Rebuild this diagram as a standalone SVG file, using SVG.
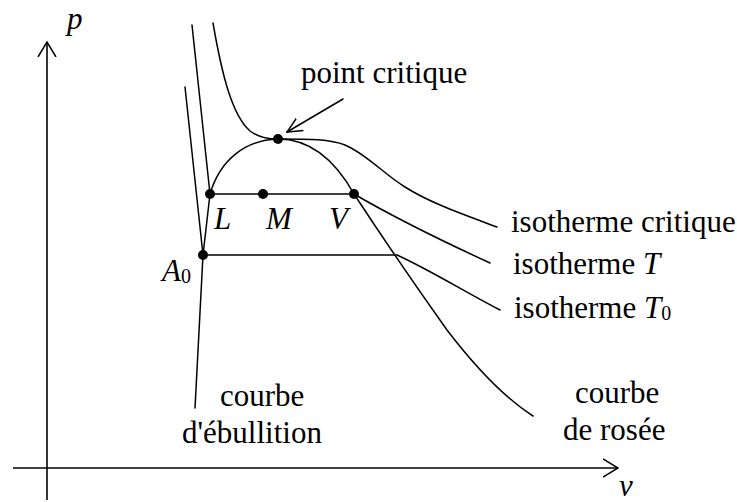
<svg xmlns="http://www.w3.org/2000/svg" width="737" height="502" viewBox="0 0 737 502">
<defs>
<style>
.ln{fill:none;stroke:#000;stroke-width:1.5;stroke-linejoin:round;stroke-linecap:round}
.ax{fill:none;stroke:#000;stroke-width:1.6}
.t{font-family:"Liberation Serif","Times New Roman",serif;font-size:31px;fill:#000}
.i{font-style:italic}
.dot{fill:#000}
</style>
<marker id="chev" viewBox="0 0 16 20" refX="15" refY="10" markerWidth="16" markerHeight="20" markerUnits="userSpaceOnUse" orient="auto">
<path d="M0,1 L15,10 L0,19" fill="none" stroke="#000" stroke-width="1.5"/>
</marker>
<marker id="chev2" viewBox="0 0 16 16" refX="15" refY="8" markerWidth="16" markerHeight="16" markerUnits="userSpaceOnUse" orient="auto">
<path d="M0,1 L15,8 L0,15" fill="none" stroke="#000" stroke-width="1.5"/>
</marker>
</defs>
<rect width="737" height="502" fill="#fff"/>

<g id="axes">
<line class="ax" x1="47" y1="500" x2="47" y2="42" marker-end="url(#chev)"/>
<line class="ax" x1="13" y1="468" x2="618" y2="468" marker-end="url(#chev)"/>
<text class="t i" x="67" y="29" font-size="28">p</text>
<text class="t i" x="619" y="496" font-size="29">v</text>
</g>

<g id="curves">
<path id="isotherme-critique" class="ln" d="M213,23 C222,75 232,115 250,131 C258,137 268,139 278,139 C310,139 330,139 345,145 C365,153 385,175 405,187 C430,203 465,215 497,227"/>
<path id="isotherme-T" class="ln" d="M192,25 L210,194 L354,194 C390,215 440,240 490,263"/>
<path id="isotherme-T0" class="ln" d="M185,87 L203,255 L397,255 C430,270 465,292 500,310"/>
<path id="courbe-rosee" class="ln" d="M210,194 C220,160 245,140 278,139 C310,139 335,160 354,194 C375,226 415,285 447,330 C470,360 500,395 533,416"/>
<path id="courbe-ebullition" class="ln" d="M210,194 L203,255 L195,408"/>
</g>

<g id="connectors">
<line class="ln" x1="343" y1="99" x2="287" y2="132" marker-end="url(#chev2)"/>
</g>

<g id="point-critique">
<circle class="dot" cx="278" cy="139" r="5"/>
<text class="t" x="301" y="83">point critique</text>
</g>
<g id="point-L">
<circle class="dot" cx="210" cy="194" r="5"/>
<text class="t i" x="214" y="229">L</text>
</g>
<g id="point-M">
<circle class="dot" cx="263" cy="194" r="5"/>
<text class="t i" x="266" y="229">M</text>
</g>
<g id="point-V">
<circle class="dot" cx="354" cy="194" r="5"/>
<text class="t i" x="329" y="229">V</text>
</g>
<g id="point-A0">
<circle class="dot" cx="203" cy="255" r="5"/>
<text class="t" x="162" y="281"><tspan class="i">A</tspan><tspan font-size="20" dy="2">0</tspan></text>
</g>

<g id="labels">
<text class="t" x="511" y="232">isotherme critique</text>
<text class="t" x="513" y="274">isotherme <tspan class="i">T</tspan></text>
<text class="t" x="514" y="318">isotherme <tspan class="i">T</tspan><tspan font-size="20" dy="2">0</tspan></text>
<text class="t" x="220" y="406">courbe</text>
<text class="t" x="182" y="443">d'ébullition</text>
<text class="t" x="575" y="403">courbe</text>
<text class="t" x="563" y="440">de rosée</text>
</g>
</svg>
